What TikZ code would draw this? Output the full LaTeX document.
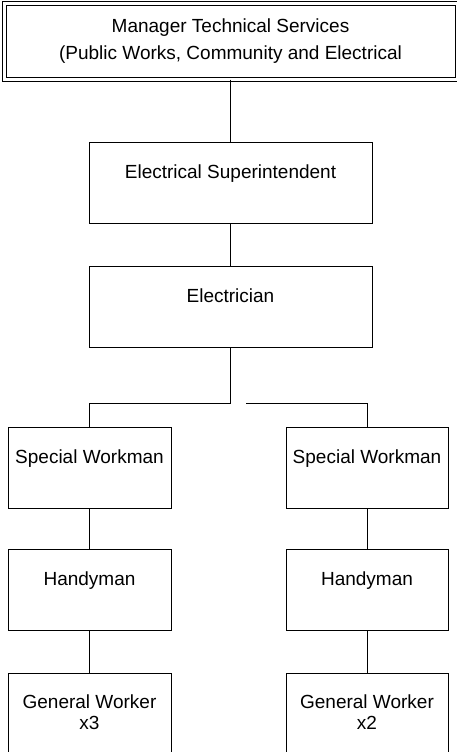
\documentclass[tikz,border=0pt]{standalone}
\usepackage{fontspec}
\setmainfont{Liberation Sans}
\usepackage{tikz}
\usetikzlibrary{positioning}
\tikzset{
  post/.style={draw,line width=1pt,inner sep=0,text height=36pt,text depth=45pt,
    font=\fontsize{19pt}{27pt}\selectfont}, % text sits in the upper half of the box
  post head/.style={draw,line width=1pt,double,double distance=3pt,inner sep=0,
    align=center,minimum width=453pt,minimum height=76pt,
    font=\fontsize{19pt}{27pt}\selectfont},
  post crew/.style={draw,line width=1pt,inner sep=0,align=center,minimum height=79pt,
    font=\fontsize{19pt}{21pt}\selectfont},
  link/.style={line width=1pt}
}

\begin{document}
\begin{tikzpicture}[x=1pt,y=-1pt]
  \useasboundingbox (0,0) rectangle (457,752);

  % nodes
  \node[post head] (mts) at (230.5,41.2) {Manager Technical Services\\(Public Works, Community and Electrical};
  \node[post,minimum width=283pt] (es) at (230.5,182.5) {Electrical Superintendent};
  \node[post,minimum width=283pt,below=42.5pt of es] (el) {Electrician};

  \node[post,minimum width=163pt] (sw1) at (89.5,467.5) {Special Workman};
  \node[post,minimum width=163pt,below=40pt of sw1] (hm1) {Handyman};
  \node[post crew,minimum width=163pt,below=42pt of hm1] (gw1) {General Worker\\x3};

  \node[post,minimum width=162pt] (sw2) at (367,467.5) {Special Workman};
  \node[post,minimum width=162pt,below=40pt of sw2] (hm2) {Handyman};
  \node[post crew,minimum width=162pt,below=42pt of hm2] (gw2) {General Worker\\x2};

  % split points under the electrician
  \coordinate (split) at (230.5,403);
  \coordinate (gap) at (246,403);

  % connectors
  \draw[link] (mts) -- (es);
  \draw[link] (es) -- (el);
  \draw[link] (el.south) -- (split) -| (sw1.north);
  \draw[link] (gap) -| (sw2.north);
  \draw[link] (sw1) -- (hm1);
  \draw[link] (hm1) -- (gw1);
  \draw[link] (sw2) -- (hm2);
  \draw[link] (hm2) -- (gw2);

\end{tikzpicture}
\end{document}
